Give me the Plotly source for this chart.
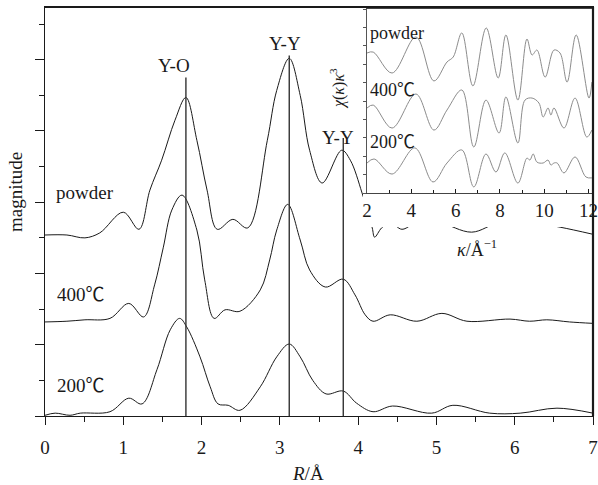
import plotly.graph_objects as go

# ---------------- main FT magnitude curves (R in Å, offset magnitude) ----------------
powder_r = [0, 0.28, 0.51, 0.70, 1.00, 1.20, 1.34, 1.49, 1.66, 1.80, 1.94, 2.07, 2.20, 2.40, 2.59,
            2.84, 2.96, 3.12, 3.26, 3.38, 3.54, 3.79, 3.90, 4.05, 4.18, 4.21, 4.30, 4.41, 4.56,
            4.79, 5.04, 5.45, 5.81, 6.19, 6.58, 7.00]
powder_m = [2.54, 2.54, 2.50, 2.57, 2.86, 2.62, 3.17, 3.59, 4.15, 4.47, 3.87, 3.17, 2.62, 2.76, 2.64,
            3.87, 4.57, 5.02, 4.50, 3.73, 3.27, 3.73, 3.59, 3.13, 2.64, 2.51, 2.64, 2.72, 2.62,
            2.75, 2.72, 2.58, 2.72, 2.72, 2.65, 2.55]

c400_r = [0, 0.28, 0.51, 0.83, 1.07, 1.26, 1.40, 1.51, 1.62, 1.75, 1.94, 2.04, 2.16, 2.30, 2.49,
          2.75, 2.87, 2.96, 3.10, 3.26, 3.38, 3.58, 3.81, 3.96, 4.09, 4.19, 4.41, 4.75, 5.07,
          5.39, 5.94, 6.19, 6.41, 6.70, 7.00]
c400_m = [1.32, 1.33, 1.35, 1.37, 1.58, 1.39, 1.84, 2.36, 2.89, 3.10, 2.61, 1.91, 1.37, 1.49, 1.47,
          1.77, 2.19, 2.61, 2.97, 2.47, 2.05, 1.81, 1.92, 1.70, 1.42, 1.33, 1.42, 1.33, 1.44,
          1.33, 1.36, 1.33, 1.35, 1.32, 1.30]

c200_r = [0, 0.13, 0.32, 0.45, 0.83, 1.07, 1.24, 1.43, 1.60, 1.72, 1.81, 1.98, 2.11, 2.21, 2.34,
          2.49, 2.75, 2.96, 3.12, 3.26, 3.42, 3.59, 3.81, 3.98, 4.19, 4.44, 4.94, 5.21, 5.68,
          6.07, 6.54, 7.00]
c200_m = [0.01, 0.04, 0.01, 0.04, 0.06, 0.25, 0.17, 0.65, 1.21, 1.37, 1.25, 0.83, 0.41, 0.17, 0.15,
          0.08, 0.41, 0.83, 1.01, 0.83, 0.50, 0.31, 0.35, 0.18, 0.06, 0.14, 0.04, 0.15, 0.04,
          0.04, 0.11, 0.04]

# peak marker lines
peak_r = [1.80, 3.12, 3.81]
peak_top = [4.75, 5.06, 3.90]
peak_labels = ["Y-O", "Y-Y", "Y-Y"]
peak_label_x = [1.65, 3.07, 3.74]
peak_label_y = [4.92, 5.23, 3.91]

CELS = '<span style="font-family:Noto Sans CJK SC">℃</span>'
curve_labels = ["powder", "400" + CELS, "200" + CELS]
curve_label_x = [0.51, 0.46, 0.46]
curve_label_y = [3.14, 1.74, 0.46]

x_ticks = [0, 1, 2, 3, 4, 5, 6, 7]

# ---------------- inset: chi(k)k^3 ----------------
k_powder = [2.00, 2.28, 3.13, 4.21, 5.02, 5.61, 5.89, 6.28, 6.78, 7.38, 7.92, 8.27, 8.81, 9.22,
            9.45, 9.67, 10.04, 10.44, 10.71, 11.03, 11.44, 12.02, 12.15]
chi_powder = [7.61, 7.66, 6.52, 8.48, 6.09, 7.12, 7.39, 8.70, 5.82, 8.97, 6.25, 8.59, 5.05, 8.37,
              7.50, 7.77, 6.30, 7.77, 7.61, 6.03, 8.59, 5.16, 6.03]

k_400 = [2.00, 2.28, 3.13, 4.21, 5.02, 5.61, 6.28, 6.82, 7.37, 7.96, 8.27, 8.81, 9.13, 9.45,
         9.76, 9.95, 10.17, 10.30, 10.44, 10.89, 11.39, 11.92, 12.15]
chi_400 = [4.62, 4.78, 3.53, 5.38, 3.42, 4.51, 5.60, 2.50, 5.05, 3.26, 5.22, 2.72, 5.05, 5.16,
           4.89, 4.13, 4.62, 4.24, 4.62, 3.53, 5.16, 3.04, 3.42]

k_200 = [2.00, 2.32, 3.13, 4.16, 4.98, 5.61, 6.28, 6.82, 7.37, 7.82, 8.22, 8.81, 9.22, 9.35,
         9.50, 9.67, 9.95, 10.17, 10.30, 10.44, 10.58, 10.89, 11.39, 11.88, 12.15]
chi_200 = [1.63, 1.85, 1.03, 2.45, 0.60, 1.63, 2.34, 0.33, 2.12, 1.14, 2.18, 0.54, 1.90, 1.79,
           2.12, 1.68, 1.63, 1.79, 1.52, 1.63, 1.63, 1.09, 1.96, 0.87, 0.82]

inset_labels = ["powder", "400" + CELS, "200" + CELS]
inset_label_y = [8.7, 5.7, 2.9]
inset_x_ticks = [2, 4, 6, 8, 10, 12]

FONT = "Liberation Serif, Times New Roman, serif"
BLACK = "#1a1a1a"
GRAY = "#8c8c8c"

fig = go.Figure()

for xs, ys in [(powder_r, powder_m), (c400_r, c400_m), (c200_r, c200_m)]:
    fig.add_trace(go.Scatter(x=xs, y=ys, mode="lines",
                             line=dict(color=BLACK, width=1, shape="spline", smoothing=1.0),
                             showlegend=False, hoverinfo="skip"))

vx, vy = [], []
for r, t in zip(peak_r, peak_top):
    vx += [r, r, None]
    vy += [0, t, None]
fig.add_trace(go.Scatter(x=vx, y=vy, mode="lines", line=dict(color="#333333", width=1.4),
                         showlegend=False, hoverinfo="skip"))

# white cover subplot (sits above the main curves, below the inset)
fig.add_trace(go.Scatter(x=[None], y=[None], xaxis="x2", yaxis="y2", showlegend=False,
                         hoverinfo="skip"))

for xs, ys in [(k_powder, chi_powder), (k_400, chi_400), (k_200, chi_200)]:
    fig.add_trace(go.Scatter(x=xs, y=ys, mode="lines", xaxis="x3", yaxis="y3",
                             line=dict(color=GRAY, width=1, shape="spline", smoothing=1.0),
                             showlegend=False, hoverinfo="skip"))

ann = []
for t, x, y in zip(peak_labels, peak_label_x, peak_label_y):
    ann.append(dict(x=x, y=y, xref="x", yref="y", text=t, showarrow=False,
                    xanchor="center", yanchor="middle",
                    font=dict(family=FONT, size=19, color=BLACK)))
for t, x, y in zip(curve_labels, curve_label_x, curve_label_y):
    ann.append(dict(x=x, y=y, xref="x", yref="y", text=t, showarrow=False,
                    xanchor="center", yanchor="middle",
                    font=dict(family=FONT, size=19, color=BLACK)))
for t, y in zip(inset_labels, inset_label_y):
    ann.append(dict(x=2.05, y=y, xref="x3", yref="y3", text=t, showarrow=False, xanchor="left",
                    yanchor="middle", font=dict(family=FONT, size=18, color=BLACK)))

# axis titles
ann.append(dict(x=(15 - 45) / 548, y=(416 - 192) / 409, xref="paper", yref="paper",
                text="magnitude", textangle=-90, showarrow=False,
                xanchor="center", yanchor="middle",
                font=dict(family=FONT, size=19, color=BLACK)))
ann.append(dict(x=(308 - 45) / 548, y=(416 - 474) / 409, xref="paper", yref="paper",
                text="<i>R</i>/Å", showarrow=False, xanchor="center", yanchor="middle",
                font=dict(family=FONT, size=19, color=BLACK)))
ann.append(dict(x=(477 - 45) / 548, y=(416 - 249) / 409, xref="paper", yref="paper",
                text="<i>κ</i>/Å<sup>−1</sup>", showarrow=False,
                xanchor="center", yanchor="middle",
                font=dict(family=FONT, size=18, color=BLACK)))
ann.append(dict(x=(337 - 45) / 548, y=(416 - 89) / 409, xref="paper", yref="paper",
                text="<i>χ</i>(<i>κ</i>)<i>κ</i><sup>3</sup>", textangle=-90, showarrow=False,
                xanchor="center", yanchor="middle",
                font=dict(family=FONT, size=16, color=BLACK)))

fig.update_layout(
    width=598, height=485,
    margin=dict(l=45, r=5, t=7, b=69, autoexpand=False),
    paper_bgcolor="white", plot_bgcolor="white",
    font=dict(family=FONT, size=19, color=BLACK),
    annotations=ann,
    xaxis=dict(domain=[0, 1], range=[0, 7], tickvals=x_ticks, ticks="outside", ticklen=8,
               tickwidth=1.2, tickcolor=BLACK, showgrid=False, zeroline=False, automargin=False,
               showline=True, linecolor=BLACK, linewidth=1.2, mirror=True, ticklabelstandoff=6,
               ticklabeloverflow="allow",
               tickfont=dict(family=FONT, size=19, color=BLACK),
               minor=dict(dtick=0.5, ticks="outside", ticklen=5, tickcolor=BLACK, showgrid=False)),
    yaxis=dict(domain=[0, 1], range=[0, 5.74], dtick=1, tick0=0, ticks="outside", ticklen=9,
               tickwidth=1.2, tickcolor=BLACK, showticklabels=False, showgrid=False,
               zeroline=False, showline=True, linecolor=BLACK, linewidth=1.2, mirror=True,
               automargin=False,
               minor=dict(dtick=0.5, ticks="outside", ticklen=5, tickcolor=BLACK, showgrid=False)),
    xaxis2=dict(domain=[(363 - 45) / 548, 1], range=[0, 1], visible=False, anchor="y2",
                automargin=False),
    yaxis2=dict(domain=[(416 - 227) / 409, 1], range=[0, 1], visible=False, anchor="x2",
                automargin=False),
    xaxis3=dict(domain=[(367 - 45) / 548, 1], range=[2, 12.2], tickvals=inset_x_ticks,
                ticks="inside", ticklen=4, tickcolor=BLACK, showgrid=False, zeroline=False,
                showline=True, linecolor="#444444", linewidth=1, mirror=True, anchor="y3",
                automargin=False, ticklabeloverflow="allow",
                tickfont=dict(family=FONT, size=19, color=BLACK),
                minor=dict(dtick=1, ticks="inside", ticklen=3, tickcolor=BLACK, showgrid=False)),
    yaxis3=dict(domain=[(416 - 193) / 409, (416 - 9) / 409], range=[0, 10], dtick=1,
                ticks="outside", ticklen=3, tickcolor="#555555", showticklabels=False,
                showgrid=False, zeroline=False, showline=True, linecolor="#555555",
                linewidth=1, mirror=True, anchor="x3", automargin=False),
    shapes=[
        dict(type="line", xref="paper", yref="paper", x0=1, x1=1, y0=0, y1=1,
             line=dict(color=BLACK, width=2.2), layer="above"),
        dict(type="line", xref="paper", yref="paper", x0=0, x1=1, y0=1, y1=1,
             line=dict(color=BLACK, width=2.2), layer="above"),
    ],
)

fig.write_html("out.html")
